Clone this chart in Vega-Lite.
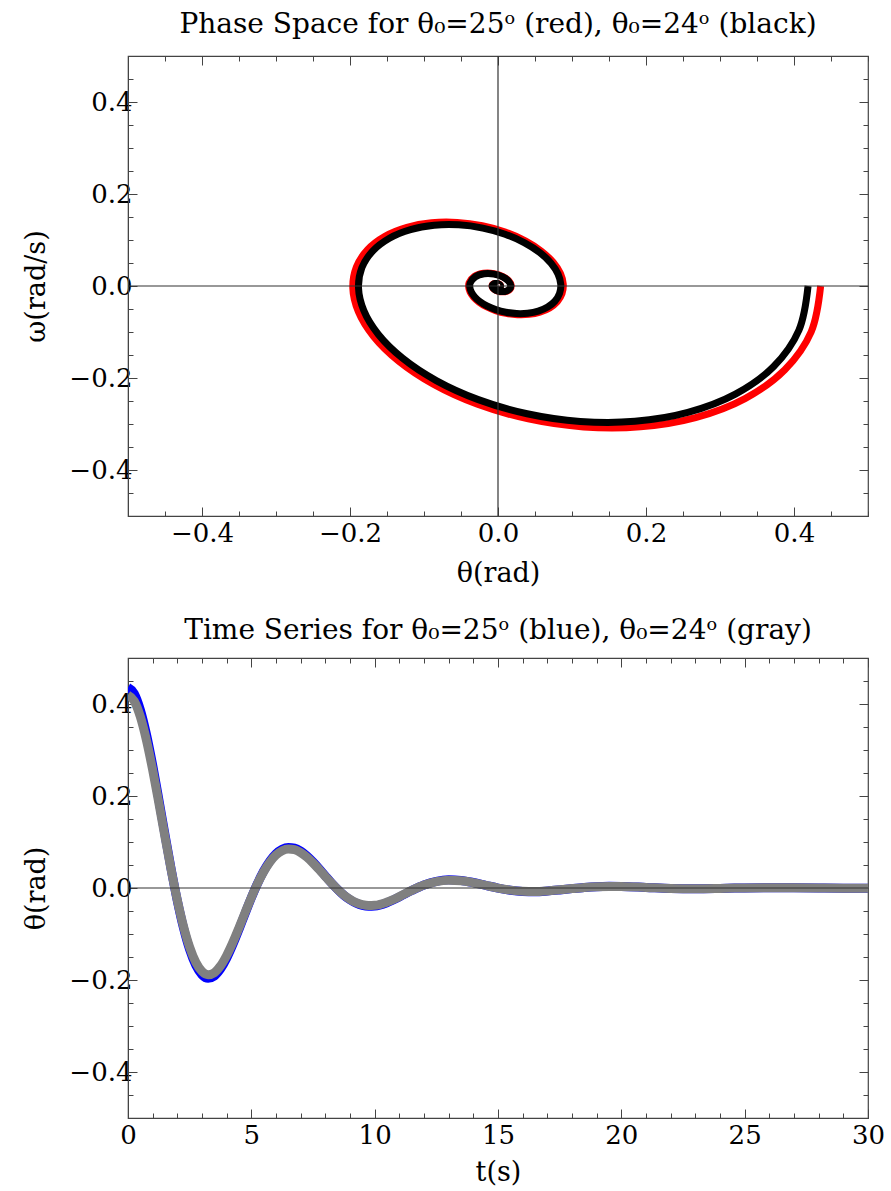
{
"$schema": "https://vega.github.io/schema/vega-lite/v6.json",
"background": "white",
"padding": {"left": 22, "top": 10, "right": 18, "bottom": 0},
"spacing": 29,
"config": {
  "font": "DejaVu Serif",
  "view": {"stroke": "#444444", "strokeWidth": 1.2},
  "title": {"font": "DejaVu Serif", "fontSize": 28, "fontWeight": "normal", "color": "black", "offset": 4},
  "axis": {"grid": false, "labelFont": "DejaVu Serif", "labelFontSize": 26, "labelColor": "black", "titleFont": "DejaVu Serif", "titleFontSize": 27, "titleFontWeight": "normal", "titleColor": "black", "domainColor": "#444444", "tickColor": "#444444", "labelFlush": false, "labelOverlap": false, "labelBound": false}
},
"datasets": {
"pend": [
{"t":0,"th":0.436,"om":0,"s":"25"},
{"t":0.25,"th":0.4232,"om":-0.0996,"s":"25"},
{"t":0.5,"th":0.3876,"om":-0.1821,"s":"25"},
{"t":0.75,"th":0.3338,"om":-0.2447,"s":"25"},
{"t":1,"th":0.2670,"om":-0.2860,"s":"25"},
{"t":1.25,"th":0.1925,"om":-0.3061,"s":"25"},
{"t":1.5,"th":0.1156,"om":-0.3064,"s":"25"},
{"t":1.75,"th":0.0409,"om":-0.2890,"s":"25"},
{"t":2,"th":-0.0277,"om":-0.2570,"s":"25"},
{"t":2.25,"th":-0.0868,"om":-0.2139,"s":"25"},
{"t":2.5,"th":-0.1340,"om":-0.1635,"s":"25"},
{"t":2.75,"th":-0.1681,"om":-0.1097,"s":"25"},
{"t":3,"th":-0.1887,"om":-0.0557,"s":"25"},
{"t":3.25,"th":-0.1962,"om":-0.0044,"s":"25"},
{"t":3.5,"th":-0.1914,"om":0.0411,"s":"25"},
{"t":3.75,"th":-0.1762,"om":0.0790,"s":"25"},
{"t":4,"th":-0.1527,"om":0.1080,"s":"25"},
{"t":4.25,"th":-0.1230,"om":0.1274,"s":"25"},
{"t":4.5,"th":-0.0898,"om":0.1374,"s":"25"},
{"t":4.75,"th":-0.0551,"om":0.1382,"s":"25"},
{"t":5,"th":-0.0213,"om":0.1310,"s":"25"},
{"t":5.25,"th":0.0098,"om":0.1172,"s":"25"},
{"t":5.5,"th":0.0369,"om":0.0982,"s":"25"},
{"t":5.75,"th":0.0586,"om":0.0757,"s":"25"},
{"t":6,"th":0.0746,"om":0.0515,"s":"25"},
{"t":6.25,"th":0.0844,"om":0.0271,"s":"25"},
{"t":6.5,"th":0.0882,"om":0.0039,"s":"25"},
{"t":6.75,"th":0.0865,"om":-0.0168,"s":"25"},
{"t":7,"th":0.0801,"om":-0.0342,"s":"25"},
{"t":7.25,"th":0.0698,"om":-0.0476,"s":"25"},
{"t":7.5,"th":0.0566,"om":-0.0567,"s":"25"},
{"t":7.75,"th":0.0418,"om":-0.0616,"s":"25"},
{"t":8,"th":0.0262,"om":-0.0623,"s":"25"},
{"t":8.25,"th":0.0109,"om":-0.0594,"s":"25"},
{"t":8.5,"th":-0.0032,"om":-0.0534,"s":"25"},
{"t":8.75,"th":-0.0156,"om":-0.0450,"s":"25"},
{"t":9,"th":-0.0256,"om":-0.0350,"s":"25"},
{"t":9.25,"th":-0.0330,"om":-0.0242,"s":"25"},
{"t":9.5,"th":-0.0377,"om":-0.0132,"s":"25"},
{"t":9.75,"th":-0.0396,"om":-0.0027,"s":"25"},
{"t":10,"th":-0.0391,"om":0.0068,"s":"25"},
{"t":10.5,"th":-0.0319,"om":0.0209,"s":"25"},
{"t":11,"th":-0.0194,"om":0.0276,"s":"25"},
{"t":11.5,"th":-0.0055,"om":0.0269,"s":"25"},
{"t":12,"th":0.0066,"om":0.0206,"s":"25"},
{"t":12.5,"th":0.0146,"om":0.0113,"s":"25"},
{"t":13,"th":0.0178,"om":0.0016,"s":"25"},
{"t":13.5,"th":0.0165,"om":-0.0063,"s":"25"},
{"t":14,"th":0.0120,"om":-0.0112,"s":"25"},
{"t":14.5,"th":0.0059,"om":-0.0127,"s":"25"},
{"t":15,"th":-0.0002,"om":-0.0111,"s":"25"},
{"t":15.5,"th":-0.0049,"om":-0.0075,"s":"25"},
{"t":16,"th":-0.0075,"om":-0.0031,"s":"25"},
{"t":16.5,"th":-0.0080,"om":0.0010,"s":"25"},
{"t":17,"th":-0.0066,"om":0.0040,"s":"25"},
{"t":17.5,"th":-0.0042,"om":0.0055,"s":"25"},
{"t":18,"th":-0.0014,"om":0.0055,"s":"25"},
{"t":18.5,"th":0.0011,"om":0.0043,"s":"25"},
{"t":19,"th":0.0029,"om":0.0025,"s":"25"},
{"t":19.5,"th":0.0036,"om":0.0005,"s":"25"},
{"t":20,"th":0.0034,"om":-0.0012,"s":"25"},
{"t":21,"th":0.0013,"om":-0.0026,"s":"25"},
{"t":22,"th":-0.0009,"om":-0.0016,"s":"25"},
{"t":23,"th":-0.0016,"om":0.0001,"s":"25"},
{"t":24,"th":-0.0009,"om":0.0011,"s":"25"},
{"t":25,"th":0.0002,"om":0.0009,"s":"25"},
{"t":26,"th":0.0007,"om":0.0001,"s":"25"},
{"t":27,"th":0.0005,"om":-0.0004,"s":"25"},
{"t":28,"th":0.0000,"om":-0.0005,"s":"25"},
{"t":29,"th":-0.0003,"om":-0.0002,"s":"25"},
{"t":30,"th":-0.0003,"om":0.0001,"s":"25"},
{"t":0,"th":0.419,"om":0,"s":"24"},
{"t":0.25,"th":0.4067,"om":-0.0958,"s":"24"},
{"t":0.5,"th":0.3725,"om":-0.1750,"s":"24"},
{"t":0.75,"th":0.3208,"om":-0.2351,"s":"24"},
{"t":1,"th":0.2566,"om":-0.2748,"s":"24"},
{"t":1.25,"th":0.1850,"om":-0.2942,"s":"24"},
{"t":1.5,"th":0.1111,"om":-0.2944,"s":"24"},
{"t":1.75,"th":0.0393,"om":-0.2777,"s":"24"},
{"t":2,"th":-0.0266,"om":-0.2470,"s":"24"},
{"t":2.25,"th":-0.0834,"om":-0.2056,"s":"24"},
{"t":2.5,"th":-0.1288,"om":-0.1572,"s":"24"},
{"t":2.75,"th":-0.1616,"om":-0.1054,"s":"24"},
{"t":3,"th":-0.1813,"om":-0.0535,"s":"24"},
{"t":3.25,"th":-0.1885,"om":-0.0042,"s":"24"},
{"t":3.5,"th":-0.1840,"om":0.0395,"s":"24"},
{"t":3.75,"th":-0.1694,"om":0.0759,"s":"24"},
{"t":4,"th":-0.1467,"om":0.1038,"s":"24"},
{"t":4.25,"th":-0.1182,"om":0.1225,"s":"24"},
{"t":4.5,"th":-0.0863,"om":0.1320,"s":"24"},
{"t":4.75,"th":-0.0530,"om":0.1329,"s":"24"},
{"t":5,"th":-0.0205,"om":0.1259,"s":"24"},
{"t":5.25,"th":0.0095,"om":0.1126,"s":"24"},
{"t":5.5,"th":0.0354,"om":0.0944,"s":"24"},
{"t":5.75,"th":0.0564,"om":0.0728,"s":"24"},
{"t":6,"th":0.0717,"om":0.0495,"s":"24"},
{"t":6.25,"th":0.0811,"om":0.0260,"s":"24"},
{"t":6.5,"th":0.0848,"om":0.0038,"s":"24"},
{"t":6.75,"th":0.0832,"om":-0.0161,"s":"24"},
{"t":7,"th":0.0770,"om":-0.0328,"s":"24"},
{"t":7.25,"th":0.0671,"om":-0.0457,"s":"24"},
{"t":7.5,"th":0.0544,"om":-0.0545,"s":"24"},
{"t":7.75,"th":0.0401,"om":-0.0592,"s":"24"},
{"t":8,"th":0.0252,"om":-0.0599,"s":"24"},
{"t":8.25,"th":0.0105,"om":-0.0571,"s":"24"},
{"t":8.5,"th":-0.0031,"om":-0.0513,"s":"24"},
{"t":8.75,"th":-0.0150,"om":-0.0433,"s":"24"},
{"t":9,"th":-0.0246,"om":-0.0337,"s":"24"},
{"t":9.25,"th":-0.0317,"om":-0.0232,"s":"24"},
{"t":9.5,"th":-0.0362,"om":-0.0127,"s":"24"},
{"t":9.75,"th":-0.0381,"om":-0.0026,"s":"24"},
{"t":10,"th":-0.0376,"om":0.0065,"s":"24"},
{"t":10.5,"th":-0.0306,"om":0.0201,"s":"24"},
{"t":11,"th":-0.0187,"om":0.0265,"s":"24"},
{"t":11.5,"th":-0.0053,"om":0.0259,"s":"24"},
{"t":12,"th":0.0063,"om":0.0198,"s":"24"},
{"t":12.5,"th":0.0140,"om":0.0109,"s":"24"},
{"t":13,"th":0.0171,"om":0.0016,"s":"24"},
{"t":13.5,"th":0.0159,"om":-0.0061,"s":"24"},
{"t":14,"th":0.0115,"om":-0.0108,"s":"24"},
{"t":14.5,"th":0.0056,"om":-0.0122,"s":"24"},
{"t":15,"th":-0.0002,"om":-0.0106,"s":"24"},
{"t":15.5,"th":-0.0047,"om":-0.0072,"s":"24"},
{"t":16,"th":-0.0072,"om":-0.0029,"s":"24"},
{"t":16.5,"th":-0.0077,"om":0.0010,"s":"24"},
{"t":17,"th":-0.0064,"om":0.0039,"s":"24"},
{"t":17.5,"th":-0.0040,"om":0.0053,"s":"24"},
{"t":18,"th":-0.0013,"om":0.0053,"s":"24"},
{"t":18.5,"th":0.0011,"om":0.0042,"s":"24"},
{"t":19,"th":0.0027,"om":0.0024,"s":"24"},
{"t":19.5,"th":0.0034,"om":0.0005,"s":"24"},
{"t":20,"th":0.0033,"om":-0.0011,"s":"24"},
{"t":21,"th":0.0013,"om":-0.0025,"s":"24"},
{"t":22,"th":-0.0009,"om":-0.0015,"s":"24"},
{"t":23,"th":-0.0016,"om":0.0001,"s":"24"},
{"t":24,"th":-0.0009,"om":0.0011,"s":"24"},
{"t":25,"th":0.0002,"om":0.0009,"s":"24"},
{"t":26,"th":0.0007,"om":0.0001,"s":"24"},
{"t":27,"th":0.0005,"om":-0.0004,"s":"24"},
{"t":28,"th":0.0000,"om":-0.0005,"s":"24"},
{"t":29,"th":-0.0003,"om":-0.0002,"s":"24"},
{"t":30,"th":-0.0003,"om":0.0001,"s":"24"}
],
"zero": [{"v": 0}]
},
"vconcat": [
{
  "width": 740, "height": 460,
  "title": {"text": "Phase Space for θ₀=25ᵒ (red), θ₀=24ᵒ (black)"},
  "layer": [
    {
      "data": {"name": "pend"},
      "transform": [{"filter": "datum.s == '25'"}],
      "mark": {"type": "line", "color": "#ff0000", "strokeWidth": 7, "interpolate": "catmull-rom", "clip": true},
      "encoding": {
        "x": {"field": "th", "type": "quantitative", "scale": {"domain": [-0.5, 0.5], "nice": false, "zero": false},
              "axis": {"orient": "bottom", "title": "θ(rad)", "titlePadding": 10,
                       "values": [-0.5,-0.45,-0.4,-0.35,-0.3,-0.25,-0.2,-0.15,-0.1,-0.05,0,0.05,0.1,0.15,0.2,0.25,0.3,0.35,0.4,0.45,0.5],
                       "labelExpr": "abs(datum.value*5 - round(datum.value*5)) < 0.001 ? format(datum.value, '.1f') : ''",
                       "tickSize": {"condition": {"test": "abs(datum.value*5 - round(datum.value*5)) < 0.001", "value": -9}, "value": -5},
                       "labelPadding": 13}},
        "y": {"field": "om", "type": "quantitative", "scale": {"domain": [-0.5, 0.5], "nice": false, "zero": false},
              "axis": {"orient": "left", "title": "ω(rad/s)", "titlePadding": 18,
                       "values": [-0.5,-0.45,-0.4,-0.35,-0.3,-0.25,-0.2,-0.15,-0.1,-0.05,0,0.05,0.1,0.15,0.2,0.25,0.3,0.35,0.4,0.45,0.5],
                       "labelExpr": "abs(datum.value*5 - round(datum.value*5)) < 0.001 ? format(datum.value, '.1f') : ''",
                       "tickSize": {"condition": {"test": "abs(datum.value*5 - round(datum.value*5)) < 0.001", "value": -9}, "value": -5},
                       "labelPadding": 5}},
        "order": {"field": "t", "type": "quantitative"}
      }
    },
    {
      "data": {"name": "pend"},
      "transform": [{"filter": "datum.s == '24'"}],
      "mark": {"type": "line", "color": "#000000", "strokeWidth": 7, "interpolate": "catmull-rom", "clip": true},
      "encoding": {
        "x": {"field": "th", "type": "quantitative", "scale": {"domain": [-0.5, 0.5], "nice": false, "zero": false},
              "axis": {"orient": "top", "title": null, "labels": false, "domain": false,
                       "values": [-0.5,-0.45,-0.4,-0.35,-0.3,-0.25,-0.2,-0.15,-0.1,-0.05,0,0.05,0.1,0.15,0.2,0.25,0.3,0.35,0.4,0.45,0.5],
                       "tickSize": {"condition": {"test": "abs(datum.value*5 - round(datum.value*5)) < 0.001", "value": -9}, "value": -5}}},
        "y": {"field": "om", "type": "quantitative", "scale": {"domain": [-0.5, 0.5], "nice": false, "zero": false},
              "axis": {"orient": "right", "title": null, "labels": false, "domain": false,
                       "values": [-0.5,-0.45,-0.4,-0.35,-0.3,-0.25,-0.2,-0.15,-0.1,-0.05,0,0.05,0.1,0.15,0.2,0.25,0.3,0.35,0.4,0.45,0.5],
                       "tickSize": {"condition": {"test": "abs(datum.value*5 - round(datum.value*5)) < 0.001", "value": -9}, "value": -5}}},
        "order": {"field": "t", "type": "quantitative"}
      }
    },
    {
      "data": {"name": "zero"},
      "mark": {"type": "rule", "color": "#333333", "strokeWidth": 1.2},
      "encoding": {"y": {"field": "v", "type": "quantitative", "axis": null}}
    },
    {
      "data": {"name": "zero"},
      "mark": {"type": "rule", "color": "#333333", "strokeWidth": 1.2},
      "encoding": {"x": {"field": "v", "type": "quantitative", "axis": null}}
    }
  ],
  "resolve": {"axis": {"x": "independent", "y": "independent"}}
},
{
  "width": 740, "height": 460,
  "title": {"text": "Time Series for θ₀=25ᵒ (blue), θ₀=24ᵒ (gray)", "offset": 0},
  "layer": [
    {
      "data": {"name": "pend"},
      "transform": [{"filter": "datum.s == '25'"}],
      "mark": {"type": "line", "color": "#0000ff", "strokeWidth": 9, "interpolate": "monotone", "clip": true},
      "encoding": {
        "x": {"field": "t", "type": "quantitative", "scale": {"domain": [0, 30], "nice": false, "zero": false},
              "axis": {"orient": "bottom", "title": "t(s)", "titlePadding": 7,
                       "values": [0,1,2,3,4,5,6,7,8,9,10,11,12,13,14,15,16,17,18,19,20,21,22,23,24,25,26,27,28,29,30],
                       "labelExpr": "datum.value % 5 == 0 ? format(datum.value, 'd') : ''",
                       "tickSize": {"condition": {"test": "datum.value % 5 == 0", "value": -9}, "value": -5},
                       "labelPadding": 13}},
        "y": {"field": "th", "type": "quantitative", "scale": {"domain": [-0.5, 0.5], "nice": false, "zero": false},
              "axis": {"orient": "left", "title": "θ(rad)", "titlePadding": 18,
                       "values": [-0.5,-0.45,-0.4,-0.35,-0.3,-0.25,-0.2,-0.15,-0.1,-0.05,0,0.05,0.1,0.15,0.2,0.25,0.3,0.35,0.4,0.45,0.5],
                       "labelExpr": "abs(datum.value*5 - round(datum.value*5)) < 0.001 ? format(datum.value, '.1f') : ''",
                       "tickSize": {"condition": {"test": "abs(datum.value*5 - round(datum.value*5)) < 0.001", "value": -9}, "value": -5},
                       "labelPadding": 5}},
        "order": {"field": "t", "type": "quantitative"}
      }
    },
    {
      "data": {"name": "pend"},
      "transform": [{"filter": "datum.s == '24'"}],
      "mark": {"type": "line", "color": "#808080", "strokeWidth": 9, "interpolate": "monotone", "clip": true},
      "encoding": {
        "x": {"field": "t", "type": "quantitative", "scale": {"domain": [0, 30], "nice": false, "zero": false},
              "axis": {"orient": "top", "title": null, "labels": false, "domain": false,
                       "values": [0,1,2,3,4,5,6,7,8,9,10,11,12,13,14,15,16,17,18,19,20,21,22,23,24,25,26,27,28,29,30],
                       "tickSize": {"condition": {"test": "datum.value % 5 == 0", "value": -9}, "value": -5}}},
        "y": {"field": "th", "type": "quantitative", "scale": {"domain": [-0.5, 0.5], "nice": false, "zero": false},
              "axis": {"orient": "right", "title": null, "labels": false, "domain": false,
                       "values": [-0.5,-0.45,-0.4,-0.35,-0.3,-0.25,-0.2,-0.15,-0.1,-0.05,0,0.05,0.1,0.15,0.2,0.25,0.3,0.35,0.4,0.45,0.5],
                       "tickSize": {"condition": {"test": "abs(datum.value*5 - round(datum.value*5)) < 0.001", "value": -9}, "value": -5}}},
        "order": {"field": "t", "type": "quantitative"}
      }
    },
    {
      "data": {"name": "zero"},
      "mark": {"type": "rule", "color": "#333333", "strokeWidth": 1.2},
      "encoding": {"y": {"field": "v", "type": "quantitative", "axis": null}}
    }
  ],
  "resolve": {"axis": {"x": "independent", "y": "independent"}}
}
]
}
